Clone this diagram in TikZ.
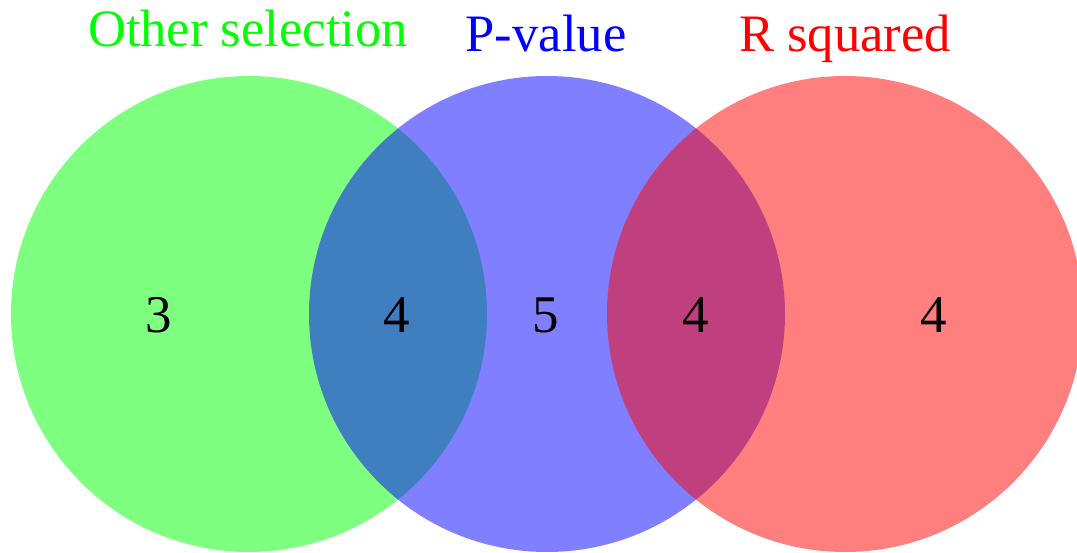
\documentclass[tikz,border=0pt]{standalone}
\usepackage{fontspec}
\setmainfont{Liberation Serif}
\begin{document}
\begin{tikzpicture}[x=1pt,y=-1pt,
  setcircle/.style={fill opacity=0.5, draw=none},
  settitle/.style={anchor=base, inner sep=0pt, font=\fontsize{52.6}{60}\selectfont},
  count/.style={anchor=base, inner sep=0pt, font=\fontsize{53}{60}\selectfont, text=black}]
\useasboundingbox (0,0) rectangle (1077,553);
% the three sets
\fill[setcircle, fill={rgb,255:red,0;green,255;blue,0}] (249,314) circle[radius=238];
\fill[setcircle, fill={rgb,255:red,0;green,0;blue,255}] (547,314) circle[radius=238];
\fill[setcircle, fill={rgb,255:red,255;green,0;blue,0}] (845,314) circle[radius=238];
% set names
\node[settitle, text={rgb,255:red,0;green,255;blue,0}] (tother) at (248,47) {Other selection};
\node[settitle, text={rgb,255:red,0;green,0;blue,255}] (tpval) at (546,52) {P-value};
\node[settitle, text={rgb,255:red,255;green,0;blue,0}] (trsq) at (845,52) {R squared};
% region counts
\node[count] (n1) at (159,333) {3};
\node[count] (n2) at (397,333) {4};
\node[count] (n3) at (546,333) {5};
\node[count] (n4) at (695.5,333) {4};
\node[count] (n5) at (934,333) {4};
\end{tikzpicture}
\end{document}
